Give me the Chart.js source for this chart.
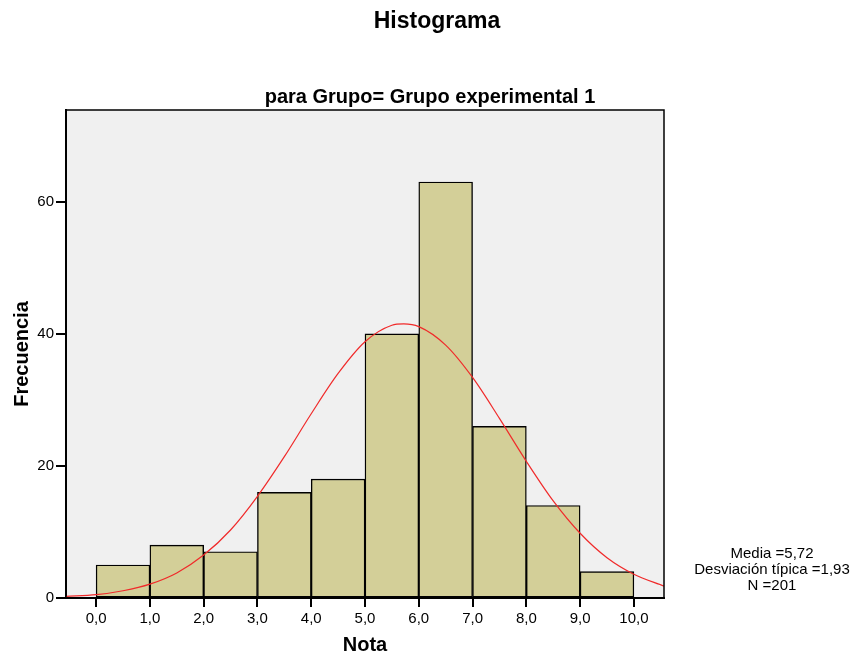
<!DOCTYPE html>
<html lang="es">
<head>
  <meta charset="UTF-8" />
  <title>Histograma</title>
  <script src="https://cdn.jsdelivr.net/npm/chart.js"></script>
  <style>
    html, body {
      margin: 0;
      background: #fff;
    }
    #chart {
      display: block;
    }
  </style>
</head>
<body>
<canvas id="chart" width="856" height="657"></canvas>

<script>
  // bins of width 1, centred between the ticks
  const binCenters = [0.5, 1.5, 2.5, 3.5, 4.5, 5.5, 6.5, 7.5, 8.5, 9.5];
  const counts = [5, 8, 7, 16, 18, 40, 63, 26, 14, 4];

  // red normal curve
  const curveX = [-0.56, 0, 0.5, 1, 1.5, 2, 2.5, 3, 3.5, 4, 4.5, 5, 5.5, 5.72, 6, 6.5, 7, 7.5, 8, 8.5, 9, 9.5, 10, 10.56];
  const curveY = [0.25, 0.5, 1.1, 2.1, 3.8, 6.5, 10.3, 15.4, 21.4, 27.9, 34.0, 38.8, 41.3, 41.5, 41.1, 38.3, 33.4, 27.2, 20.7, 14.7, 9.8, 6.1, 3.6, 1.8];

  const xTicks = [0, 1, 2, 3, 4, 5, 6, 7, 8, 9, 10];
  const yTicks = [0, 20, 40, 60];

  const statsLines = ['Media =5,72', 'Desviación típica =1,93', 'N =201'];

  const fontName = '"Liberation Sans", Arial, sans-serif';

  const framePlugin = {
    id: 'frame',
    beforeDraw(chart) {
      const { ctx, chartArea: a } = chart;
      ctx.save();
      ctx.fillStyle = '#f0f0f0';
      ctx.fillRect(a.left, a.top, a.right - a.left, a.bottom - a.top);
      ctx.restore();
    },
    afterDraw(chart) {
      const { ctx, chartArea: a } = chart;
      ctx.save();
      ctx.strokeStyle = '#000';
      ctx.lineWidth = 1.5;
      ctx.strokeRect(a.left, a.top, a.right - a.left, a.bottom - a.top);

      ctx.fillStyle = '#000';
      ctx.textAlign = 'center';
      ctx.textBaseline = 'middle';
      ctx.font = 'bold 23px ' + fontName;
      ctx.fillText('Histograma', 437, 22);
      ctx.font = 'bold 20px ' + fontName;
      ctx.fillText('para Grupo= Grupo experimental 1', 430, 97);

      ctx.font = '15px ' + fontName;
      statsLines.forEach((t, i) => ctx.fillText(t, 772, 554 + i * 16));
      ctx.restore();
    }
  };

  const fmt = v => v.toFixed(1).replace('.', ',');

  new Chart(document.getElementById('chart'), {
    type: 'bar',
    data: {
      datasets: [
        {
          type: 'line',
          data: curveX.map((x, i) => ({ x: x, y: curveY[i] })),
          borderColor: '#f02a2a',
          borderWidth: 1.2,
          pointRadius: 0,
          tension: 0.4,
          cubicInterpolationMode: 'monotone',
          order: 0
        },
        {
          type: 'bar',
          data: binCenters.map((x, i) => ({ x: x, y: counts[i] })),
          backgroundColor: '#d3cf98',
          borderColor: '#000',
          borderWidth: 1.4,
          borderSkipped: false,
          barPercentage: 1,
          categoryPercentage: 1,
          order: 1
        }
      ]
    },
    options: {
      responsive: false,
      animation: false,
      layout: { padding: { left: 0, right: 192, top: 110, bottom: 0 } },
      plugins: {
        legend: { display: false },
        tooltip: { enabled: false }
      },
      scales: {
        x: {
          type: 'linear',
          offset: false,
          min: -0.56,
          max: 10.56,
          afterBuildTicks: ax => { ax.ticks = xTicks.map(v => ({ value: v })); },
          afterFit: ax => { ax.height = 59; },
          grid: { offset: false, drawOnChartArea: false, drawTicks: true, tickLength: 9, color: '#000', lineWidth: 2 },
          border: { display: true, color: '#000', width: 2 },
          ticks: {
            color: '#000',
            font: { family: fontName, size: 15 },
            padding: 3,
            maxRotation: 0,
            callback: v => fmt(v)
          },
          title: {
            display: true,
            text: 'Nota',
            color: '#000',
            font: { family: fontName, size: 20, weight: 'bold' },
            padding: { top: 0, bottom: 0 }
          }
        },
        y: {
          min: 0,
          max: 73.9,
          afterBuildTicks: ax => { ax.ticks = yTicks.map(v => ({ value: v })); },
          afterFit: ax => { ax.width = 66; },
          grid: { drawOnChartArea: false, drawTicks: true, tickLength: 10, color: '#000', lineWidth: 2 },
          border: { display: true, color: '#000', width: 2 },
          ticks: {
            color: '#000',
            font: { family: fontName, size: 15 },
            padding: 2
          },
          title: {
            display: true,
            text: 'Frecuencia',
            color: '#000',
            font: { family: fontName, size: 20, weight: 'bold' },
            padding: { top: 10, bottom: 0 }
          }
        }
      }
    },
    plugins: [framePlugin]
  });
</script>
</body>
</html>
